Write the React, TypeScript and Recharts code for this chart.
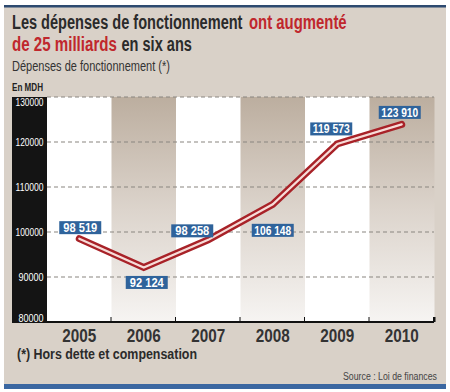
import React from 'react';
import { ComposedChart, Bar, Cell, Line, XAxis, YAxis, ReferenceLine, LabelList } from 'recharts';

const categories = ['2005', '2006', '2007', '2008', '2009', '2010'];
const values = [98519, 92124, 98258, 106148, 119573, 123910];
const valueLabels = ['98 519', '92 124', '98 258', '106 148', '119 573', '123 910'];
const yTicks = [80000, 90000, 100000, 110000, 120000, 130000];
const yTickLabels = ['80000', '90000', '100000', '110000', '120000', '130000'];

const yMin = yTicks[0];
const yMax = yTicks[yTicks.length - 1];

const data = categories.map((year, i) => ({
  year,
  value: values[i],
  label: valueLabels[i],
  band: yMax,
}));

const FONT = "'Liberation Sans', Arial, sans-serif";
const RED = '#c0272d';
const DARK = '#2b2b2b';
const SQ = 'spacingAndGlyphs';

// label box offsets relative to each data point (style only)
const labelOffsets: [number, number][] = [
  [1, -11],
  [3, 15],
  [-16, -9],
  [0, 26],
  [-6, -15],
  [-2, -12],
];

const renderLabel = (props: any) => {
  const { x, y, index, value } = props;
  if (x == null || y == null) return null;
  const [dx, dy] = labelOffsets[index] || [0, -12];
  const cx = x + dx;
  const cy = y + dy;
  const w = 42;
  const h = 13;
  const txt = valueLabels[index] ?? String(value);
  return (
    <g>
      <rect x={cx - w / 2} y={cy - h / 2} width={w} height={h} fill="#2f639b" />
      <text
        x={cx - (txt.length > 6 ? 18.5 : 17)}
        y={cy + 4.5}
        fill="#ffffff"
        fontFamily={FONT}
        fontWeight={700}
        fontSize={12.5}
        textLength={txt.length > 6 ? 37 : 34}
        lengthAdjust={SQ}
      >
        {txt}
      </text>
    </g>
  );
};

const renderYTick = (props: any) => {
  const { y, payload } = props;
  const i = yTicks.indexOf(payload.value);
  const s = yTickLabels[i] ?? String(payload.value);
  let dy = 3.5;
  if (payload.value === yMax) dy = 9;
  if (payload.value === yMin) dy = 0;
  const len = s.length > 5 ? 28 : 25;
  return (
    <text
      x={43.5 - len}
      y={y + dy}
      fill="#ffffff"
      fontFamily={FONT}
      fontSize={10}
      textLength={len}
      lengthAdjust={SQ}
    >
      {s}
    </text>
  );
};

const renderXTick = (props: any) => {
  const { x, payload } = props;
  return (
    <text
      x={x - 17}
      y={342}
      fill="#333333"
      fontFamily={FONT}
      fontWeight={700}
      fontSize={18}
      textLength={34}
      lengthAdjust={SQ}
    >
      {payload.value}
    </text>
  );
};

const BandShape = (props: any) => {
  const { x, y, width, height, fill } = props;
  return (
    <g>
      <rect x={x} y={y} width={width} height={height} fill={fill} />
      <rect x={x + width - 1.5} y={y + height - 5} width={2.5} height={5} fill="#111" />
    </g>
  );
};

const Squeezed = ({ x, y, sx, children, ...rest }: any) => (
  <g transform={`translate(${x},${y}) scale(${sx},1)`}>
    <text x={0} y={0} {...rest}>
      {children}
    </text>
  </g>
);

export default function App() {
  return (
    <div style={{ position: 'absolute', left: 0, top: 0, width: 450, height: 392, background: '#ffffff', overflow: 'hidden' }}>
      <svg width={450} height={392} style={{ position: 'absolute', left: 0, top: 0 }}>
        <rect x={4} y={6} width={442} height={380} fill="#d9d1c8" />
        <rect x={4} y={5} width={442} height={2.5} fill="#2d4a70" />
        <rect x={4} y={384} width={442} height={5} fill="#3b67a1" />
        <rect x={12} y={97} width={35} height={226} fill="#141414" />
        <Squeezed x={12} y={29} sx={0.728} fontFamily={FONT} fontWeight={700} fontSize={20} fill={DARK}>
          Les dépenses de fonctionnement
        </Squeezed>
        <Squeezed x={249} y={29} sx={0.745} fontFamily={FONT} fontWeight={700} fontSize={20} fill={RED}>
          ont augmenté
        </Squeezed>
        <Squeezed x={12} y={51} sx={0.755} fontFamily={FONT} fontWeight={700} fontSize={20} fill={RED}>
          de 25 milliards
        </Squeezed>
        <Squeezed x={121.5} y={51} sx={0.728} fontFamily={FONT} fontWeight={700} fontSize={20} fill={DARK}>
          en six ans
        </Squeezed>
        <text x={12} y={70.5} fontFamily={FONT} fontSize={15} fill="#333333" textLength={158} lengthAdjust={SQ}>
          Dépenses de fonctionnement (*)
        </text>
        <text x={12} y={91} fontFamily={FONT} fontWeight={700} fontSize={11} fill="#222222" textLength={31} lengthAdjust={SQ}>
          En MDH
        </text>
        <text x={17} y={359} fontFamily={FONT} fontWeight={700} fontSize={14} fill={DARK} textLength={180} lengthAdjust={SQ}>
          (*) Hors dette et compensation
        </text>
        <text x={343} y={380} fontFamily={FONT} fontSize={10} fill="#444444" textLength={94} lengthAdjust={SQ}>
          Source : Loi de finances
        </text>
      </svg>
      <div style={{ position: 'absolute', left: 0, top: 0 }}>
        <ComposedChart
          width={450}
          height={392}
          data={data}
          margin={{ top: 97, right: 16, left: 12, bottom: 0 }}
          barCategoryGap={0}
          barGap={0}
        >
          <defs>
            <linearGradient id="bandGrad" x1="0" y1="0" x2="0" y2="1">
              <stop offset="0%" stopColor="#bcae9f" />
              <stop offset="50%" stopColor="#dcd4cc" />
              <stop offset="100%" stopColor="#f6f4f2" />
            </linearGradient>
          </defs>
          <XAxis
            dataKey="year"
            height={70}
            axisLine={{ stroke: '#111111', strokeWidth: 2 }}
            tickLine={false}
            tick={renderXTick}
            interval={0}
          />
          <YAxis
            width={35}
            domain={[yMin, yMax]}
            ticks={yTicks}
            allowDataOverflow
            axisLine={false}
            tickLine={false}
            tickSize={4}
            tick={renderYTick}
            interval={0}
          />
          <Bar dataKey="band" isAnimationActive={false} shape={<BandShape />}>
            {data.map((d, i) => (
              <Cell key={d.year} fill={i % 2 === 1 ? 'url(#bandGrad)' : '#ffffff'} />
            ))}
          </Bar>
          {yTicks.slice(1).map((t) => (
            <ReferenceLine key={t} y={t} stroke="#8a8580" strokeDasharray="4 3" strokeWidth={1.2} />
          ))}
          <Line
            type="linear"
            dataKey="value"
            stroke="#a82228"
            strokeWidth={7}
            strokeLinecap="round"
            dot={false}
            activeDot={false}
            isAnimationActive={false}
          />
          <Line
            type="linear"
            dataKey="value"
            stroke="#f7dcd8"
            strokeWidth={2.2}
            strokeLinecap="round"
            dot={false}
            activeDot={false}
            isAnimationActive={false}
          >
            <LabelList dataKey="label" content={renderLabel} />
          </Line>
        </ComposedChart>
      </div>
    </div>
  );
}
